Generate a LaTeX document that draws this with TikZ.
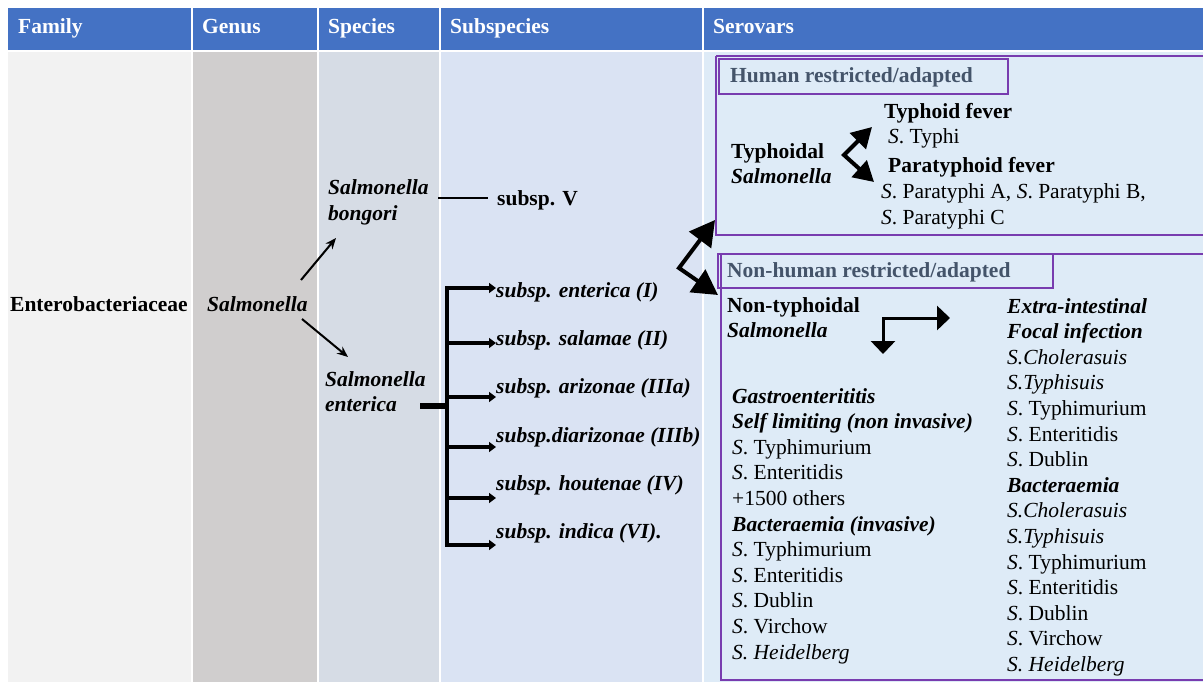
\documentclass[tikz,border=0pt]{standalone}
\usepackage{fontspec}
\setmainfont{Liberation Serif}
\usetikzlibrary{arrows.meta}
\definecolor{hdr}{HTML}{4472C4}
\definecolor{cfam}{HTML}{F2F2F2}
\definecolor{cgen}{HTML}{D0CECE}
\definecolor{cspe}{HTML}{D6DCE5}
\definecolor{csub}{HTML}{DAE3F3}
\definecolor{cser}{HTML}{DEEBF7}
\definecolor{purp}{RGB}{120,60,175}
\definecolor{slate}{HTML}{44546A}
\newcommand{\bi}[1]{\textbf{\textit{#1}}}
\begin{document}
\begin{tikzpicture}[x=1pt,y=-1pt,
  txt/.style={inner sep=0pt, anchor=base west, font=\fontsize{21.5}{25.6}\selectfont},
  hd/.style={txt, text=white, font=\fontsize{21.5}{25.6}\selectfont\bfseries},
  lbl/.style={txt, text=slate, font=\fontsize{21.5}{25.6}\selectfont\bfseries},
  pbox/.style={draw=purp, line width=1.2pt},
  bigarrow/.style={line width=4pt, {Triangle[length=25pt,width=27pt]}-{Triangle[length=25pt,width=27pt]}},
  hookarrow/.style={line width=4pt, {Triangle[length=20pt,width=22pt]}-{Triangle[length=20pt,width=22pt]}},
  bentarrow/.style={line width=3pt, {Triangle[length=13pt,width=24pt]}-{Triangle[length=13pt,width=24pt]}},
  subarrow/.style={line width=3.5pt, -{Triangle[length=7pt,width=10pt]}},
  genarrow/.style={line width=2pt, -{Stealth[length=11pt,width=9pt]}},
  plain/.style={line width=2.5pt}
]
\useasboundingbox (0,0) rectangle (1203,682);
\clip (0,0) rectangle (1203,682);
\fill[white] (0,0) rectangle (1203,682);
% header
\fill[hdr] (8,8) rectangle (1203,50);
\foreach \xx in {192,318,440,703} \draw[white, line width=1.5pt] (\xx,8) -- (\xx,50);
% body columns
\fill[cfam] (8,52) rectangle (191.3,682);
\fill[cgen] (192.7,52) rectangle (317.3,682);
\fill[cspe] (318.7,52) rectangle (439.3,682);
\fill[csub] (440.7,52) rectangle (702.3,682);
\fill[cser] (703.7,52) rectangle (1203,682);
% header texts
\node[hd] (hFam) at (18,34) {Family};
\node[hd] (hGen) at (202,34) {Genus};
\node[hd] (hSpe) at (328,34) {Species};
\node[hd] (hSub) at (450,34) {Subspecies};
\node[hd] (hSer) at (713,34) {Serovars};
% family / genus
\node[txt] (fam) at (10,311) {\textbf{Enterobacteriaceae}};
\node[txt] (gen) at (207,311) {\bi{Salmonella}};
% species
\node[txt] (bon1) at (328,195) {\bi{Salmonella}};
\node[txt] (bon2) at (328,220) {\bi{bongori}};
\node[txt] (ent1) at (325,386) {\bi{Salmonella}};
\node[txt] (ent2) at (325,411) {\bi{enterica}};
\node[txt] (subV) at (497,205) {\textbf{subsp. V}};
% subspecies
\node[txt] (s1) at (496,297) {\bi{subsp. enterica (I)}};
\node[txt] (s2) at (496,345) {\bi{subsp. salamae (II)}};
\node[txt] (s3) at (496,393) {\bi{subsp. arizonae (IIIa)}};
\node[txt] (s4) at (496,442) {\bi{subsp.diarizonae (IIIb)}};
\node[txt] (s5) at (496,490) {\bi{subsp. houtenae (IV)}};
\node[txt] (s6) at (496,538) {\bi{subsp. indica (VI).}};
% genus arrows
\coordinate (gU0) at (301,280); \coordinate (gU1) at (336,238);
\coordinate (gD0) at (302,319); \coordinate (gD1) at (348,357);
\draw[genarrow] (gU0) -- (gU1);
\draw[genarrow] (gD0) -- (gD1);
% bongori -> subsp V
\coordinate (bv0) at (438,198); \coordinate (bv1) at (488,198);
\draw[plain] (bv0) -- (bv1);
% enterica bracket
\coordinate (e0) at (420,406); \coordinate (e1) at (447,406);
\draw[line width=6pt] (e0) -- (e1);
\coordinate (vb0) at (447,286.25); \coordinate (vb1) at (447,546.75);
\draw[line width=3.5pt] (vb0) -- (vb1);
\foreach \yy [count=\i] in {288,343,397,447,498,545} {
  \coordinate (a\i) at (445.25,\yy);
  \coordinate (b\i) at (496,\yy);
  \draw[subarrow] (a\i) -- (b\i);
}
% serovar boxes
\draw[pbox] (716,56) -- (1215,56) (716,56) -- (716,235) -- (1215,235);
\draw[pbox] (719,59) rectangle (1008,94);
\node[lbl] (hum) at (730,83) {Human restricted/adapted};
\draw[pbox] (721,254) -- (1215,254) (721,254) -- (721,680) -- (1215,680);
\draw[pbox] (718,254) rectangle (1053,288);
\node[lbl] (nonhum) at (727,277) {Non-human restricted/adapted};
% big arrows from subspecies to serovars
\coordinate (bv) at (679,268); \coordinate (bt1) at (715,220); \coordinate (bt2) at (718,295);
\draw[bigarrow] (bt1) -- (bv) -- (bt2);
% human box contents
\node[txt] (ty1) at (731,159) {\textbf{Typhoidal}};
\node[txt] (ty2) at (731,183) {\bi{Salmonella}};
\node[txt] (tf) at (884,119) {\textbf{Typhoid fever}};
\node[txt] (st) at (888,144) {\textit{S}. Typhi};
\node[txt] (pf) at (888,173) {\textbf{Paratyphoid fever}};
\node[txt] (sp1) at (881,199) {\textit{S}. Paratyphi A, \textit{S}. Paratyphi B,};
\node[txt] (sp2) at (881,225) {\textit{S}. Paratyphi C};
\coordinate (hv) at (844,155); \coordinate (ht1) at (872,127); \coordinate (ht2) at (874,182);
\draw[hookarrow] (ht1) -- (hv) -- (ht2);
% non-human contents
\node[txt] (nt1) at (727,312) {\textbf{Non-typhoidal}};
\node[txt] (nt2) at (727,337) {\bi{Salmonella}};
\coordinate (nd) at (883,354); \coordinate (nc) at (883,318); \coordinate (nr) at (950,318);
\draw[bentarrow] (nd) -- (nc) -- (nr);
\foreach \t [count=\i] in {\bi{Gastroenterititis}, \bi{Self limiting (non invasive)}, \textit{S}. Typhimurium, \textit{S}. Enteritidis, +1500 others, \bi{Bacteraemia (invasive)}, \textit{S}. Typhimurium, \textit{S}. Enteritidis, \textit{S}. Dublin, \textit{S}. Virchow, \textit{S. Heidelberg}}
  \node[txt] (L\i) at (732,{403+(\i-1)*25.6}) {\t};
\foreach \t [count=\i] in {\bi{Extra-intestinal}, \bi{Focal infection}, \textit{S.Cholerasuis}, \textit{S.Typhisuis}, \textit{S}. Typhimurium, \textit{S}. Enteritidis, \textit{S}. Dublin, \bi{Bacteraemia}, \textit{S.Cholerasuis}, \textit{S.Typhisuis}, \textit{S}. Typhimurium, \textit{S}. Enteritidis, \textit{S}. Dublin, \textit{S}. Virchow, \textit{S. Heidelberg}}
  \node[txt] (R\i) at (1007,{313+(\i-1)*25.6}) {\t};
\end{tikzpicture}
\end{document}
